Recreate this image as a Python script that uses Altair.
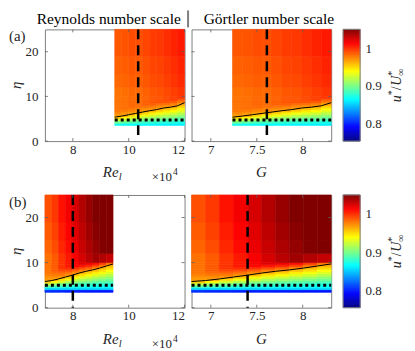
import altair as alt
import pandas as pd
import numpy as np

FONT = "Liberation Serif"
TXT = "#262626"

# ---------------- data ----------------
# column edges of the measured field, on the Reynolds axis (x1e4) and on the Goertler axis
RE_EDGES_A = [9.5, 9.75, 10.0, 10.25, 10.5, 10.75, 11.0, 11.25, 11.5, 11.75, 12.0]
G_EDGES_A = [7.236, 7.343, 7.451, 7.558, 7.666, 7.773, 7.880, 7.988, 8.095, 8.203, 8.31]
RE_EDGES_B = [7.0, 7.244, 7.488, 7.732, 7.976, 8.22, 8.464, 8.708, 8.952, 9.196, 9.44]
G_EDGES_B = [6.79, 6.942, 7.094, 7.246, 7.398, 7.55, 7.702, 7.854, 8.006, 8.158, 8.31]
# row edges in eta
ETA_EDGES_A = [3.5, 4.0, 4.5, 5.0, 5.5, 6.0, 6.5, 7.0, 7.5, 8.0, 8.5, 9.0, 9.5, 10.0, 12.0, 15.0, 19.0, 25.0]
ETA_EDGES_B = [3.4, 4.0, 4.5, 5.0, 5.5, 6.0, 6.5, 7.0, 7.5, 8.0, 8.5, 9.0, 9.5, 10.0, 12.0, 15.0, 19.0, 25.0]

# u*/U*inf, one list per column (bottom row first)
U_A = [
    [0.869, 0.897, 0.924, 0.952, 0.968, 0.973, 0.978, 0.980, 0.980, 0.980, 0.980, 0.980, 0.980, 0.980, 0.983, 0.985, 0.988],
    [0.867, 0.892, 0.916, 0.941, 0.966, 0.970, 0.976, 0.981, 0.981, 0.981, 0.981, 0.981, 0.981, 0.981, 0.984, 0.986, 0.989],
    [0.866, 0.887, 0.909, 0.931, 0.952, 0.967, 0.973, 0.979, 0.983, 0.983, 0.983, 0.983, 0.983, 0.983, 0.986, 0.988, 0.991],
    [0.865, 0.884, 0.903, 0.923, 0.942, 0.961, 0.970, 0.975, 0.981, 0.982, 0.982, 0.982, 0.982, 0.982, 0.985, 0.987, 0.990],
    [0.864, 0.881, 0.899, 0.916, 0.934, 0.951, 0.966, 0.973, 0.980, 0.985, 0.985, 0.985, 0.985, 0.985, 0.988, 0.990, 0.993],
    [0.863, 0.879, 0.895, 0.911, 0.927, 0.943, 0.959, 0.970, 0.978, 0.985, 0.988, 0.988, 0.988, 0.988, 0.991, 0.993, 0.996],
    [0.862, 0.877, 0.892, 0.907, 0.921, 0.936, 0.951, 0.966, 0.973, 0.981, 0.989, 0.989, 0.989, 0.989, 0.992, 0.994, 0.997],
    [0.862, 0.876, 0.889, 0.903, 0.917, 0.931, 0.944, 0.958, 0.970, 0.979, 0.988, 0.992, 0.992, 0.992, 0.995, 0.997, 1.000],
    [0.861, 0.874, 0.887, 0.900, 0.913, 0.926, 0.939, 0.952, 0.966, 0.975, 0.985, 0.995, 0.995, 0.995, 0.998, 1.000, 1.003],
    [0.861, 0.872, 0.884, 0.895, 0.907, 0.919, 0.930, 0.942, 0.953, 0.966, 0.976, 0.987, 0.998, 0.998, 1.001, 1.003, 1.006],
]
U_B = [
    [0.805, 0.855, 0.888, 0.921, 0.954, 0.968, 0.971, 0.975, 0.979, 0.980, 0.980, 0.980, 0.980, 0.980, 0.984, 0.987, 0.990],
    [0.803, 0.855, 0.883, 0.911, 0.940, 0.966, 0.971, 0.977, 0.982, 0.987, 0.987, 0.987, 0.987, 0.987, 0.991, 0.994, 0.997],
    [0.802, 0.855, 0.879, 0.902, 0.926, 0.949, 0.968, 0.976, 0.984, 0.992, 0.998, 0.998, 0.998, 0.998, 1.002, 1.005, 1.008],
    [0.800, 0.855, 0.875, 0.895, 0.915, 0.935, 0.955, 0.970, 0.980, 0.991, 1.001, 1.006, 1.006, 1.006, 1.010, 1.013, 1.016],
    [0.800, 0.855, 0.872, 0.889, 0.907, 0.924, 0.941, 0.958, 0.973, 0.985, 0.998, 1.010, 1.015, 1.015, 1.019, 1.022, 1.025],
    [0.799, 0.855, 0.870, 0.885, 0.900, 0.915, 0.931, 0.946, 0.961, 0.976, 0.991, 1.006, 1.021, 1.025, 1.029, 1.032, 1.035],
    [0.798, 0.855, 0.869, 0.883, 0.897, 0.910, 0.924, 0.938, 0.952, 0.966, 0.983, 1.000, 1.017, 1.033, 1.037, 1.040, 1.043],
    [0.798, 0.855, 0.868, 0.880, 0.893, 0.906, 0.918, 0.931, 0.944, 0.957, 0.971, 0.990, 1.009, 1.040, 1.044, 1.047, 1.050],
    [0.797, 0.855, 0.867, 0.878, 0.890, 0.901, 0.913, 0.925, 0.936, 0.948, 0.959, 0.975, 0.995, 1.035, 1.049, 1.052, 1.055],
    [0.797, 0.855, 0.866, 0.876, 0.887, 0.897, 0.908, 0.918, 0.929, 0.939, 0.950, 0.960, 0.977, 1.030, 1.054, 1.057, 1.060],
]

# boundary-layer edge contour (eta) at the column edges
CONTOUR_ETA_A = [5.35, 5.6, 5.9, 6.2, 6.5, 6.8, 7.05, 7.4, 7.6, 7.9, 8.6]
CONTOUR_ETA_B = [5.8, 6.02, 6.37, 6.8, 7.2, 7.67, 8.06, 8.38, 8.77, 9.24, 9.7]

DASH_RE_A, DASH_G_A = 10.34, 7.61
DASH_RE_B, DASH_G_B = 8.0, 7.40
DOT_ETA_A, DOT_ETA_B = 4.7, 5.0

RE_DOMAIN = [7.0, 12.0]
G_DOMAIN = [6.79, 8.31]
ETA_DOMAIN = [0, 25]
RE_TICKS = [8, 10, 12]
G_TICKS = [7, 7.5, 8]
ETA_TICKS = [0, 10, 20]
CB_TICKS = [0.8, 0.9, 1.0]
CB_DOMAIN = [0.754, 1.05]
JET_STOPS = [0.754, 0.791, 0.865, 0.939, 1.013, 1.05]
JET_COLORS = ["#000080", "#0000ff", "#00ffff", "#ffff00", "#ff0000", "#800000"]

# ---------------- tables ----------------
def cells(re_e, g_e, eta_e, U):
    rows = []
    for i in range(len(re_e) - 1):
        for j in range(len(eta_e) - 1):
            rows.append(dict(re0=re_e[i], re1=re_e[i + 1], g0=g_e[i], g1=g_e[i + 1],
                             e0=eta_e[j], e1=eta_e[j + 1], u=U[i][j]))
    return pd.DataFrame(rows)

CELLS_A = cells(RE_EDGES_A, G_EDGES_A, ETA_EDGES_A, U_A)
CELLS_B = cells(RE_EDGES_B, G_EDGES_B, ETA_EDGES_B, U_B)
CONT_A = pd.DataFrame({"re": RE_EDGES_A, "g": G_EDGES_A, "eta": CONTOUR_ETA_A})
CONT_B = pd.DataFrame({"re": RE_EDGES_B, "g": G_EDGES_B, "eta": CONTOUR_ETA_B})
DOT_A = pd.DataFrame({"re0": [RE_EDGES_A[0]], "re1": [RE_EDGES_A[-1]], "g0": [G_EDGES_A[0]],
                      "g1": [G_EDGES_A[-1]], "eta": [DOT_ETA_A]})
DOT_B = pd.DataFrame({"re0": [RE_EDGES_B[0]], "re1": [RE_EDGES_B[-1]], "g0": [G_EDGES_B[0]],
                      "g1": [G_EDGES_B[-1]], "eta": [DOT_ETA_B]})
ONE = pd.DataFrame({"k": [0]})

cscale = alt.Scale(type="linear", domain=JET_STOPS, range=JET_COLORS, interpolate="rgb", clamp=True)
GRID = "#606060"
AX = dict(labelFont=FONT, labelFontSize=13, labelColor=TXT, domain=False, ticks=False, grid=False, title=None)


def label(txt, x, y, size=15, italic=False, align="left", baseline="alphabetic", angle=0, dy=0, color=TXT):
    kw = dict(text=txt, font=FONT, fontSize=size, align=align, baseline=baseline, color=color)
    if italic:
        kw["fontStyle"] = "italic"
    if angle:
        kw["angle"] = angle
    if dy:
        kw["dy"] = dy
    return alt.Chart(ONE).mark_text(**kw).encode(x=alt.value(x), y=alt.value(y))


def panel(cdf, f0, f1, fl, xdom, xticks, cont, dot, dash_x, W, H, show_y, extras):
    xs = alt.Scale(domain=xdom, nice=False, zero=False)
    ys = alt.Scale(domain=ETA_DOMAIN, nice=False, zero=False)
    xaxis = alt.Axis(values=xticks, format="~g", labelPadding=2, **AX)
    yaxis = alt.Axis(values=ETA_TICKS, format="d", labelPadding=7, **AX) if show_y else None
    heat = alt.Chart(cdf).mark_rect(strokeWidth=0.6).encode(
        x=alt.X(f"{f0}:Q", scale=xs, axis=xaxis), x2=f"{f1}:Q",
        y=alt.Y("e0:Q", scale=ys, axis=yaxis), y2="e1:Q",
        color=alt.Color("u:Q", scale=cscale, legend=None),
        stroke=alt.Stroke("u:Q", scale=cscale, legend=None),
    )
    cline = alt.Chart(cont).mark_line(color="black", strokeWidth=1).encode(
        x=alt.X(f"{fl}:Q", scale=xs, axis=xaxis), y=alt.Y("eta:Q", scale=ys, axis=yaxis))
    dline = alt.Chart(dot).mark_rule(color="black", strokeWidth=3, strokeDash=[3, 3]).encode(
        x=alt.X(f"{f0}:Q", scale=xs, axis=xaxis), x2=f"{f1}:Q", y=alt.Y("eta:Q", scale=ys, axis=yaxis))
    vline = alt.Chart(pd.DataFrame({"xd": [dash_x]})).mark_rule(
        color="black", strokeWidth=2.5, strokeDash=[10, 6]).encode(x=alt.X("xd:Q", scale=xs, axis=xaxis))
    xt = pd.DataFrame({"t": xticks})
    yt = pd.DataFrame({"t": ETA_TICKS})
    tb = alt.Chart(xt).mark_rule(color=GRID, strokeWidth=0.8).encode(
        x=alt.X("t:Q", scale=xs, axis=xaxis), y=alt.value(H), y2=alt.value(H - 3))
    tt = alt.Chart(xt).mark_rule(color=GRID, strokeWidth=0.8).encode(
        x=alt.X("t:Q", scale=xs, axis=xaxis), y=alt.value(0), y2=alt.value(3))
    tl = alt.Chart(yt).mark_rule(color=GRID, strokeWidth=0.8).encode(
        y=alt.Y("t:Q", scale=ys, axis=yaxis), x=alt.value(0), x2=alt.value(3))
    tr = alt.Chart(yt).mark_rule(color=GRID, strokeWidth=0.8).encode(
        y=alt.Y("t:Q", scale=ys, axis=yaxis), x=alt.value(W - 3), x2=alt.value(W))
    return alt.layer(heat, cline, dline, vline, tb, tt, tl, tr, *extras).properties(width=W, height=H)


def re_title(H):
    return [
        label("Re", 58, H + 36, size=15, italic=True),
        label("l", 74, H + 39, size=10.5, italic=True),
        label("\u00d710", 107, H + 40, size=13),
        label("4", 128.5, H + 34, size=9.5),
    ]


def g_title(H):
    return [label("G", 70, H + 36, size=15, italic=True, align="center")]


def eta_title(H):
    return [label("\u03b7", -28.5, H / 2, size=15, italic=True, align="center", baseline="middle", angle=270)]


def colorbar(H):
    sv = np.linspace(CB_DOMAIN[0], CB_DOMAIN[1], 149)
    cb = pd.DataFrame({"v0": sv[:-1], "v1": sv[1:]})
    ys = alt.Scale(domain=CB_DOMAIN, nice=False, zero=False)
    bar = alt.Chart(cb).mark_rect(strokeWidth=0.6).encode(
        x=alt.value(5), x2=alt.value(22),
        y=alt.Y("v0:Q", scale=ys, axis=alt.Axis(orient="right", values=CB_TICKS, labelPadding=5,
                                                 labelExpr="datum.value == 1 ? '1' : format(datum.value, '.1f')",
                                                 **AX)),
        y2="v1:Q",
        color=alt.Color("v0:Q", scale=cscale, legend=None),
        stroke=alt.Stroke("v0:Q", scale=cscale, legend=None),
    )
    frame = alt.Chart(ONE).mark_rect(filled=False, stroke="#808080", strokeWidth=1).encode(
        x=alt.value(5), x2=alt.value(22), y=alt.value(0), y2=alt.value(H))
    y0 = H / 2 + 17
    t = [
        label("u", 63, y0, size=14, italic=True, angle=270),
        label("*", 63, y0 - 7, size=10, angle=270, dy=-6),
        label("/", 63, y0 - 12, size=14, angle=270),
        label("U", 63, y0 - 16.5, size=14, italic=True, angle=270),
        label("*", 63, y0 - 26.5, size=10, angle=270, dy=-6),
        label("\u221e", 63, y0 - 26.5, size=10, angle=270, dy=3),
    ]
    return alt.layer(bar, frame, *t).properties(width=22, height=H, view=alt.ViewBackground(stroke="transparent"))


HA, HB = 112, 113
W = 140

A_L = panel(CELLS_A, "re0", "re1", "re", RE_DOMAIN, RE_TICKS, CONT_A, DOT_A, DASH_RE_A, W, HA, True,
            [label("(a)", -36, 7, size=15, baseline="middle"),
             label("Reynolds number scale", 64, -5, size=15.5, align="center", color="black"),
             alt.Chart(ONE).mark_rule(color="#7f7f7f", strokeWidth=2).encode(
                 x=alt.value(143.5), y=alt.value(-19), y2=alt.value(-2))]
            + eta_title(HA) + re_title(HA))
A_R = panel(CELLS_A, "g0", "g1", "g", G_DOMAIN, G_TICKS, CONT_A, DOT_A, DASH_G_A, W, HA, False,
            [label("G\u00f6rtler number scale", 77.5, -5, size=15.5, align="center", color="black")]
            + g_title(HA))
B_L = panel(CELLS_B, "re0", "re1", "re", RE_DOMAIN, RE_TICKS, CONT_B, DOT_B, DASH_RE_B, W, HB, True,
            [label("(b)", -36, 7, size=15, baseline="middle")] + eta_title(HB) + re_title(HB))
B_R = panel(CELLS_B, "g0", "g1", "g", G_DOMAIN, G_TICKS, CONT_B, DOT_B, DASH_G_B, W, HB, False, g_title(HB))

chart = alt.concat(
    A_L, A_R, colorbar(HA), B_L, B_R, colorbar(HB),
    columns=3, spacing=alt.RowColnumber(row=54, column=7), bounds="flush",
).resolve_scale(x="independent", y="independent").properties(
    padding={"left": 0, "top": 0, "right": 0, "bottom": 0}, background="white"
).configure_axis(
    labelFont=FONT, labelFontSize=13, labelColor=TXT, domain=False, ticks=False, grid=False
).configure_view(stroke="#808080", strokeWidth=1)

chart.save("out.html", embed_options={"renderer": "svg", "actions": False})
